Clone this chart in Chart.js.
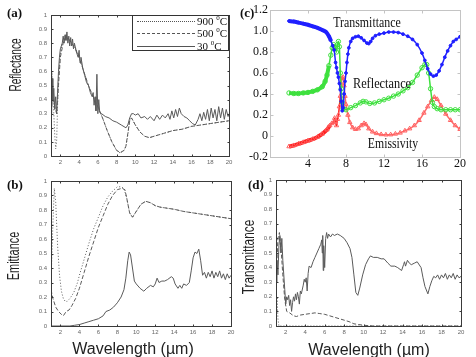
<!DOCTYPE html>
<html><head><meta charset="utf-8">
<script src="https://cdn.jsdelivr.net/npm/chart.js@4/dist/chart.umd.min.js"></script>
<style>
html,body{margin:0;padding:0;background:#fff;}
#wrap{position:relative;width:476px;height:357px;overflow:hidden;background:#fff;}
canvas{position:absolute;}
.t{position:absolute;white-space:nowrap;color:#111;}
.sans{font-family:'Liberation Sans',Arial,sans-serif;}
.serif{font-family:'Liberation Serif','Times New Roman',serif;}
.ctr{transform:translate(-50%,-50%);}
.lab{font-weight:bold;font-size:13px;}
#leg{position:absolute;left:132px;top:15px;width:95px;height:34px;border:1px solid #333;background:#fff;}
.ls{position:absolute;left:4px;width:58px;height:0;border-top:1px solid #555;}
.lt{position:absolute;left:64px;font-size:11px;line-height:11px;}
.lt sup{font-size:7px;vertical-align:5px;line-height:0;}
</style></head>
<body><div id="wrap">
<canvas id="ca" width="240" height="175" style="left:0;top:0"></canvas>
<canvas id="cb" width="240" height="175" style="left:0;top:170px"></canvas>
<canvas id="cc" width="241" height="175" style="left:235px;top:0"></canvas>
<canvas id="cd" width="241" height="175" style="left:235px;top:170px"></canvas>

<div class="t serif lab" style="left:7px;top:5px;">(a)</div>
<div class="t serif lab" style="left:7px;top:177px;">(b)</div>
<div class="t serif lab" style="left:240px;top:5px;">(c)</div>
<div class="t serif lab" style="left:248px;top:177px;">(d)</div>

<div class="t sans" style="left:16px;top:65px;font-size:16px;color:#222;transform:translate(-50%,-50%) rotate(-90deg) scaleX(0.63);">Reflectance</div>
<div class="t sans" style="left:14px;top:256px;font-size:16px;color:#222;transform:translate(-50%,-50%) rotate(-90deg) scaleX(0.68);">Emittance</div>
<div class="t sans" style="left:249px;top:257px;font-size:16px;color:#222;transform:translate(-50%,-50%) rotate(-90deg) scaleX(0.74);">Transmittance</div>
<div class="t sans ctr" style="left:133px;top:349px;font-size:16px;color:#222;">Wavelength (µm)</div>
<div class="t sans ctr" style="left:369px;top:350px;font-size:16px;color:#222;">Wavelength (µm)</div>

<div class="t serif" style="left:367px;top:23px;font-size:14px;transform:translate(-50%,-50%) scaleX(0.85);">Transmittance</div>
<div class="t serif" style="left:382px;top:84px;font-size:14px;transform:translate(-50%,-50%) scaleX(0.88);">Reflectance</div>
<div class="t serif" style="left:393px;top:144px;font-size:14px;transform:translate(-50%,-50%) scaleX(0.84);">Emissivity</div>

<div id="leg">
  <div class="ls" style="top:5px;border-top:1px dotted #555;"></div>
  <div class="t serif lt" style="top:0px;">900 <sup>0</sup>C</div>
  <div class="ls" style="top:17px;border-top:1px dashed #555;"></div>
  <div class="t serif lt" style="top:12px;">500 <sup>0</sup>C</div>
  <div class="ls" style="top:30px;"></div>
  <div class="t serif lt" style="top:25px;">30 <sup>0</sup>C</div>
</div>
</div>
<script>
// ---------- tick values / labels ----------
const xTicksGrey = [2,4,6,8,10,12,14,16,18,20];
const yTicksGrey = [0,0.1,0.2,0.3,0.4,0.5,0.6,0.7,0.8,0.9,1];
const yLabelsGrey = ['0','0.1','0.2','0.3','0.4','0.5','0.6','0.7','0.8','0.9','1'];
const xTicksC = [4,8,12,16,20];
const xLabelsC = ['4','8','12','16','20'];
const yTicksC = [-0.2,0,0.2,0.4,0.6,0.8,1.0,1.2];
const yLabelsC = ['-0.2','0','0.2','0.4','0.6','0.8','1.0','1.2'];
const seriesNames = ['900 °C','500 °C','30 °C'];

// ---------- (a) Reflectance ----------
const aX900 = [1.0,1.1,1.2,1.3,1.4,1.5,1.6,1.7,1.8,2.0,2.2,2.4,2.6,2.8,3.0,3.3,3.6,4.0,4.5,5.0,5.5,6.0,6.5,7.0,7.5,8.0,8.4,8.8,9.0,9.2,9.4,9.6,10.0,10.5,11.0,11.5,12,13,14,15,16,17,18,19,20];
const aY900 = [0.38,0.6,0.45,0.3,0.15,0.05,0.1,0.35,0.55,0.72,0.8,0.84,0.86,0.84,0.82,0.8,0.77,0.7,0.6,0.5,0.42,0.35,0.27,0.18,0.1,0.04,0.02,0.04,0.07,0.15,0.25,0.27,0.22,0.17,0.14,0.13,0.14,0.16,0.18,0.19,0.21,0.22,0.23,0.24,0.25];
const aX500 = [1.0,1.2,1.4,1.6,1.8,2.0,2.3,2.6,2.9,3.2,3.6,4.0,4.5,5.0,5.5,6.0,6.5,7.0,7.5,8.0,8.4,8.8,9.0,9.2,9.4,9.6,10.0,10.5,11.0,11.5,12,13,14,15,16,17,18,19,20];
const aY500 = [0.35,0.42,0.35,0.3,0.5,0.7,0.8,0.84,0.83,0.8,0.76,0.7,0.6,0.5,0.42,0.35,0.27,0.18,0.1,0.04,0.025,0.04,0.07,0.16,0.25,0.27,0.22,0.17,0.14,0.13,0.14,0.16,0.18,0.19,0.21,0.22,0.23,0.24,0.25];
const aX30 = [1.0,1.05,1.1,1.15,1.2,1.3,1.4,1.5,1.6,1.7,1.8,1.9,2.0,2.2,2.3,2.4,2.5,2.6,2.7,2.8,2.9,3.0,3.1,3.2,3.3,3.4,3.5,3.7,3.9,4.0,4.1,4.2,4.4,4.6,4.8,5.0,5.2,5.4,5.5,5.6,5.7,5.8,5.9,6.0,6.1,6.2,6.4,6.8,7.2,7.6,8.0,8.5,9.0,9.2,9.4,9.6,9.8,10.0,10.3,10.6,11,11.3,11.6,12,12.3,12.6,12.9,13.2,13.5,13.7,13.9,14.1,14.3,14.5,14.7,14.9,15.2,15.5,15.8,16.1,16.4,16.7,16.9,17.1,17.3,17.5,17.7,17.9,18.1,18.3,18.5,18.7,18.9,19.1,19.3,19.5,19.7,19.9,20];
const aY30 = [0.3,0.5,0.35,0.55,0.4,0.48,0.33,0.42,0.3,0.45,0.6,0.7,0.76,0.8,0.85,0.8,0.86,0.82,0.88,0.8,0.85,0.78,0.84,0.78,0.83,0.76,0.8,0.74,0.7,0.75,0.66,0.7,0.62,0.57,0.52,0.5,0.45,0.42,0.45,0.36,0.42,0.32,0.58,0.3,0.4,0.31,0.3,0.28,0.27,0.25,0.24,0.22,0.2,0.22,0.27,0.3,0.3,0.29,0.3,0.27,0.28,0.26,0.28,0.25,0.29,0.26,0.29,0.27,0.3,0.26,0.32,0.27,0.33,0.28,0.34,0.3,0.28,0.27,0.25,0.23,0.22,0.26,0.3,0.25,0.31,0.26,0.33,0.25,0.34,0.27,0.33,0.25,0.35,0.27,0.34,0.26,0.33,0.28,0.3];

// ---------- (b) Emittance ----------
const bX900 = [1.0,1.2,1.35,1.5,1.7,1.9,2.1,2.3,2.5,2.7,3.0,3.4,3.8,4.0,4.5,5.0,5.5,6.0,6.5,7.0,7.5,8.0,8.3,8.7,9.0,9.3,9.6,10.0,10.5,11.0,11.5,12.0,12.5,13,14,15,16,17,18,19,20];
const bY900 = [0.3,0.7,0.95,0.85,0.55,0.35,0.24,0.19,0.17,0.17,0.19,0.23,0.3,0.35,0.46,0.57,0.67,0.75,0.83,0.89,0.93,0.96,0.96,0.95,0.88,0.78,0.75,0.79,0.84,0.86,0.85,0.83,0.82,0.815,0.805,0.79,0.78,0.77,0.76,0.75,0.74];
const bX500 = [1.0,1.2,1.5,1.8,2.1,2.3,2.6,2.9,3.2,3.6,4.0,4.5,5.0,5.5,6.0,6.5,7.0,7.5,8.0,8.5,8.8,9.0,9.3,9.6,10.0,10.5,11.0,11.5,12.0,12.5,13,14,15,16,17,18,19,20];
const bY500 = [0.25,0.19,0.13,0.1,0.08,0.07,0.1,0.11,0.14,0.19,0.26,0.37,0.48,0.58,0.68,0.76,0.84,0.9,0.94,0.95,0.94,0.88,0.78,0.75,0.79,0.84,0.86,0.85,0.83,0.82,0.815,0.805,0.79,0.78,0.77,0.76,0.75,0.74];
const bX30 = [1.0,2.0,3.0,3.5,4.0,4.5,5.0,5.5,6.0,6.5,6.8,7.2,7.6,8.0,8.4,8.7,8.9,9.1,9.25,9.4,9.6,9.8,10.0,10.4,10.8,11.1,11.5,11.8,12.0,12.2,12.4,12.7,13.0,13.3,13.7,13.9,14.1,14.4,14.6,14.8,15.0,15.3,15.6,15.8,16.0,16.2,16.4,16.6,16.8,17.0,17.2,17.4,17.6,17.8,18.0,18.2,18.4,18.6,18.8,19.0,19.2,19.4,19.6,19.8,20];
const bY30 = [0.0,0.0,0.0,0.005,0.01,0.02,0.03,0.04,0.05,0.07,0.1,0.11,0.13,0.16,0.2,0.25,0.33,0.45,0.51,0.49,0.4,0.31,0.29,0.26,0.24,0.26,0.28,0.27,0.29,0.33,0.3,0.31,0.31,0.32,0.34,0.33,0.29,0.26,0.28,0.26,0.29,0.28,0.3,0.38,0.47,0.51,0.5,0.53,0.45,0.35,0.37,0.33,0.37,0.34,0.38,0.33,0.37,0.34,0.38,0.33,0.36,0.32,0.36,0.33,0.35];

// ---------- (c) simulated spectra ----------
const cXT = [2.0,2.5,3.0,3.5,4.0,4.5,5.0,5.5,5.9,6.2,6.4,6.6,6.75,6.9,7.0,7.1,7.2,7.3,7.4,7.5,7.6,7.7,7.8,7.9,8.0,8.1,8.2,8.3,8.5,8.7,9.0,9.3,9.6,9.9,10.2,10.4,10.6,10.8,11.1,11.5,12.0,12.5,13.0,13.5,14.0,14.5,15.0,15.5,16.0,16.3,16.6,16.9,17.2,17.5,17.8,18.1,18.4,18.7,19.0,19.3,19.6,20.0];
const cYT = [1.095,1.09,1.08,1.07,1.06,1.045,1.03,1.01,0.99,0.95,0.91,0.86,0.82,0.7,0.65,0.6,0.56,0.5,0.44,0.33,0.24,0.27,0.4,0.52,0.6,0.7,0.78,0.84,0.9,0.93,0.945,0.95,0.935,0.91,0.885,0.88,0.9,0.93,0.955,0.97,0.98,0.99,0.99,0.985,0.97,0.95,0.92,0.87,0.79,0.72,0.64,0.59,0.57,0.58,0.62,0.68,0.75,0.81,0.86,0.9,0.92,0.945];
const cXR = [2.0,2.5,3.0,3.5,4.0,4.5,5.0,5.5,5.8,6.0,6.2,6.4,6.55,6.7,6.85,7.0,7.1,7.2,7.3,7.4,7.5,7.6,7.7,8.0,8.5,9.0,9.5,9.8,10.1,10.5,11.0,11.5,12.0,12.5,13.0,13.5,14.0,14.5,15.0,15.5,16.0,16.3,16.5,16.7,16.9,17.1,17.3,17.6,18.0,18.5,19.0,19.5,20.0];
const cYR = [0.41,0.405,0.405,0.41,0.415,0.425,0.44,0.47,0.52,0.58,0.67,0.77,0.84,0.87,0.85,0.8,0.87,0.9,0.85,0.6,0.45,0.32,0.26,0.25,0.27,0.29,0.315,0.33,0.325,0.31,0.315,0.33,0.345,0.36,0.38,0.4,0.43,0.46,0.51,0.58,0.65,0.68,0.68,0.6,0.45,0.32,0.28,0.26,0.25,0.25,0.25,0.25,0.25];
const cXE = [2.0,2.5,3.0,3.5,4.0,4.5,5.0,5.5,6.0,6.3,6.5,6.7,6.8,6.9,7.0,7.1,7.2,7.3,7.4,7.5,7.6,7.7,7.8,7.9,8.0,8.2,8.4,8.7,9.0,9.3,9.6,9.9,10.1,10.4,10.8,11.2,11.7,12.2,12.7,13.2,13.7,14.2,14.7,15.2,15.7,16.2,16.6,17.0,17.3,17.6,18.0,18.5,19.0,19.5,20.0];
const cYE = [-0.1,-0.09,-0.075,-0.06,-0.045,-0.03,-0.01,0.02,0.06,0.1,0.12,0.13,0.17,0.14,0.1,0.16,0.2,0.28,0.38,0.5,0.55,0.56,0.48,0.38,0.3,0.2,0.13,0.08,0.065,0.07,0.1,0.12,0.11,0.07,0.04,0.025,0.015,0.012,0.013,0.02,0.03,0.05,0.07,0.1,0.15,0.22,0.28,0.34,0.37,0.35,0.29,0.21,0.15,0.1,0.065];

// ---------- (d) Transmittance ----------
const dX900 = [1.0,1.1,1.2,1.3,2,4,6,8,10,12,14,16,18,20];
const dY900 = [0.0,0.2,0.05,0.0,0,0,0,0,0,0,0,0,0,0];
const dX500 = [1.0,1.2,1.35,1.5,1.7,1.9,2.1,2.4,2.8,3.1,3.5,4.0,4.5,5.0,5.5,6.0,6.5,7.0,7.5,8.0,8.5,9.0,9.5,10,11,20];
const dY500 = [0.3,0.6,0.64,0.55,0.35,0.18,0.1,0.09,0.07,0.065,0.075,0.08,0.085,0.09,0.085,0.08,0.07,0.06,0.05,0.04,0.03,0.015,0.01,0.005,0,0];
const dX30 = [1.0,1.1,1.2,1.3,1.4,1.5,1.6,1.7,1.8,1.9,2.0,2.1,2.2,2.3,2.4,2.5,2.6,2.7,2.8,2.9,3.0,3.1,3.2,3.3,3.4,3.5,3.6,3.8,3.9,4.0,4.1,4.2,4.3,4.4,4.6,4.8,5.0,5.2,5.4,5.6,5.7,5.75,5.8,5.85,5.9,6.0,6.1,6.2,6.3,6.4,6.6,6.8,7.0,7.3,7.6,8.0,8.3,8.6,8.8,9.0,9.2,9.4,9.6,9.9,10.2,10.5,10.7,11.0,11.4,11.8,12.1,12.5,12.8,13.2,13.5,13.9,14.1,14.2,14.3,14.5,14.7,14.9,15.2,15.5,15.9,16.1,16.3,16.6,16.8,17.0,17.2,17.4,17.6,17.8,18.0,18.2,18.4,18.6,18.8,19.0,19.2,19.4,19.6,19.8,20];
const dY30 = [0.3,0.45,0.35,0.55,0.62,0.5,0.6,0.45,0.35,0.25,0.15,0.2,0.18,0.21,0.14,0.18,0.1,0.16,0.2,0.17,0.22,0.18,0.23,0.2,0.15,0.24,0.22,0.28,0.32,0.3,0.33,0.24,0.36,0.41,0.4,0.44,0.47,0.5,0.53,0.56,0.59,0.5,0.62,0.38,0.55,0.4,0.6,0.64,0.6,0.63,0.61,0.63,0.62,0.63,0.62,0.6,0.57,0.53,0.47,0.35,0.23,0.21,0.26,0.35,0.42,0.46,0.48,0.47,0.47,0.46,0.46,0.43,0.41,0.41,0.4,0.38,0.42,0.44,0.41,0.45,0.43,0.42,0.43,0.44,0.4,0.33,0.27,0.22,0.27,0.31,0.34,0.33,0.35,0.32,0.35,0.33,0.36,0.32,0.35,0.33,0.36,0.32,0.35,0.33,0.34];

// ---------- helpers ----------
const zip = (xs, ys) => xs.map((x, i) => ({x: x, y: ys[i]}));
const SANS = "'Liberation Sans', Arial, sans-serif";
const SERIF = "'Liberation Serif', 'Times New Roman', serif";

const framePlugin = {
  id: 'frame',
  afterDraw(chart, args, o) {
    const ctx = chart.ctx, a = chart.chartArea, sx = chart.scales.x, sy = chart.scales.y;
    ctx.save();
    ctx.strokeStyle = o.color; ctx.lineWidth = 1;
    const l = Math.round(a.left) + 0.5, t = Math.round(a.top) + 0.5, r = Math.round(a.right) + 0.5, b = Math.round(a.bottom) + 0.5;
    ctx.strokeRect(l, t, r - l, b - t);
    ctx.beginPath();
    const L = o.len;
    sx.ticks.forEach(tk => { const p = Math.round(sx.getPixelForValue(tk.value)) + 0.5; ctx.moveTo(p, b); ctx.lineTo(p, b - L); ctx.moveTo(p, t); ctx.lineTo(p, t + L); });
    sy.ticks.forEach(tk => { const p = Math.round(sy.getPixelForValue(tk.value)) + 0.5; ctx.moveTo(l, p); ctx.lineTo(l + L, p); ctx.moveTo(r, p); ctx.lineTo(r - L, p); });
    ctx.stroke();
    ctx.restore();
  }
};

function greyChart(id, sets, g) {
  const styles = [[1, 2], [4, 2], []];
  return new Chart(document.getElementById(id), {
    type: 'line',
    data: {
      datasets: sets.map((d, i) => ({
        label: seriesNames[i], data: d, borderColor: '#5a5a5a', borderWidth: 1,
        borderDash: styles[i], pointRadius: 0, fill: false, tension: 0
      }))
    },
    options: {
      responsive: false, animation: false, parsing: true,
      layout: {padding: {left: 0, top: g.top, right: g.right, bottom: 0}},
      plugins: {legend: {display: false}, tooltip: {enabled: false}, frame: {color: '#3a3a3a', len: 2}},
      scales: {
        x: {type: 'linear', min: 1, max: 20,
          afterBuildTicks: s => { s.ticks = xTicksGrey.map(v => ({value: v})); },
          afterFit: s => { s.height = g.xh; },
          grid: {display: false, drawTicks: false}, border: {display: false},
          ticks: {autoSkip: false, maxRotation: 0, padding: 3, color: '#666', font: {family: SANS, size: 6},
                  callback: (v, i) => String(xTicksGrey[i])}},
        y: {type: 'linear', min: 0, max: 1,
          afterBuildTicks: s => { s.ticks = yTicksGrey.map(v => ({value: v})); },
          afterFit: s => { s.width = g.yw; },
          grid: {display: false, drawTicks: false}, border: {display: false},
          ticks: {autoSkip: false, padding: 4, color: '#666', font: {family: SANS, size: 6},
                  callback: (v, i) => yLabelsGrey[i]}}
      }
    },
    plugins: [framePlugin]
  });
}

greyChart('ca', [zip(aX900, aY900), zip(aX500, aY500), zip(aX30, aY30)], {yw: 51, top: 15, right: 11, xh: 19});
greyChart('cb', [zip(bX900, bY900), zip(bX500, bY500), zip(bX30, bY30)], {yw: 51, top: 11, right: 9, xh: 19});
greyChart('cd', [zip(dX900, dY900), zip(dX500, dY500), zip(dX30, dY30)], {yw: 41, top: 10, right: 15, xh: 19});

const thick = (limit, w1, w2) => ctx => (ctx.p0.parsed.x < limit ? w1 : w2);
new Chart(document.getElementById('cc'), {
  type: 'line',
  data: {
    datasets: [
      {label: 'Transmittance', data: zip(cXT, cYT), borderColor: '#1f1fff', backgroundColor: '#1f1fff',
       borderWidth: 1.5, segment: {borderWidth: thick(6.3, 4, 1.5)}, pointStyle: 'circle', pointRadius: 1.4,
       pointBorderWidth: 1, pointBackgroundColor: '#1f1fff', tension: 0.3},
      {label: 'Reflectance', data: zip(cXR, cYR), borderColor: '#3ee03e', backgroundColor: 'rgba(0,0,0,0)',
       borderWidth: 1.5, segment: {borderWidth: thick(6.2, 4, 1.5)}, pointStyle: 'circle', pointRadius: 2.2,
       pointBorderWidth: 1, pointBackgroundColor: 'rgba(255,255,255,0)', tension: 0.3},
      {label: 'Emissivity', data: zip(cXE, cYE), borderColor: '#ff3030', backgroundColor: 'rgba(0,0,0,0)',
       borderWidth: 1.5, segment: {borderWidth: thick(6.3, 4, 1.5), borderColor: c => (c.p0.parsed.x < 7.4 ? '#ff2020' : '#ff6a6a')},
       pointStyle: 'triangle', pointRadius: 2.5,
       pointBorderWidth: 1, pointBackgroundColor: 'rgba(255,255,255,0)', pointBorderColor: '#ff6060', tension: 0.3}
    ]
  },
  options: {
    responsive: false, animation: false,
    layout: {padding: {left: 0, top: 10, right: 16, bottom: 0}},
    plugins: {legend: {display: false}, tooltip: {enabled: false}, frame: {color: '#c4c4c4', len: 3}},
    scales: {
      x: {type: 'linear', min: 0, max: 20,
        afterBuildTicks: s => { s.ticks = xTicksC.map(v => ({value: v})); },
        afterFit: s => { s.height = 18; },
        grid: {display: false, drawTicks: false}, border: {display: false},
        ticks: {autoSkip: false, maxRotation: 0, padding: 0, color: '#111', font: {family: SERIF, size: 12},
                callback: (v, i) => xLabelsC[i]}},
      y: {type: 'linear', min: -0.2, max: 1.2,
        afterBuildTicks: s => { s.ticks = yTicksC.map(v => ({value: v})); },
        afterFit: s => { s.width = 35; },
        grid: {display: false, drawTicks: false}, border: {display: false},
        ticks: {autoSkip: false, padding: 2, color: '#111', font: {family: SERIF, size: 12},
                callback: (v, i) => yLabelsC[i]}}
    }
  },
  plugins: [framePlugin]
});
</script>
</body></html>
